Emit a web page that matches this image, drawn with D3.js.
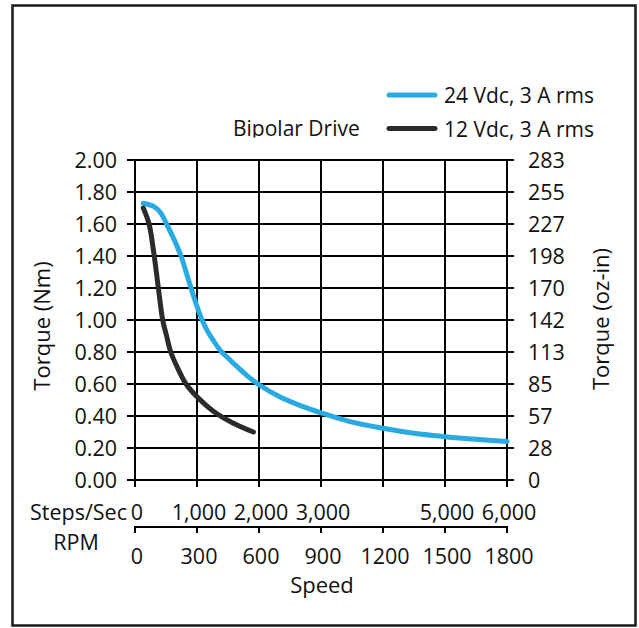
<!DOCTYPE html>
<html>
<head>
<meta charset="utf-8">
<script src="https://cdn.jsdelivr.net/npm/d3@7"></script>
<style>
  html, body { margin: 0; padding: 0; background: #fff; }
  svg { display: block; }
  text { font-family: "Open Sans", sans-serif; fill: #111; }
</style>
</head>
<body>
<svg id="chart" width="639" height="628"></svg>
<script>
// ---- data ----
const rpm24    = [40, 90, 121, 153, 190, 223, 247, 271, 296, 323, 345, 365, 419, 444, 480, 540, 600, 700, 800, 900, 1040, 1200, 1350, 1500, 1650, 1800];
const torque24 = [1.73, 1.71, 1.675, 1.60, 1.50, 1.40, 1.30, 1.20, 1.10, 1.005, 0.945, 0.90, 0.80, 0.77, 0.725, 0.655, 0.595, 0.52, 0.465, 0.42, 0.365, 0.323, 0.292, 0.271, 0.254, 0.24];
const rpm12    = [40, 68, 93, 113, 134, 153, 173, 210, 247, 300, 379, 476, 573];
const torque12 = [1.70, 1.60, 1.40, 1.20, 1.00, 0.90, 0.80, 0.69, 0.60, 0.52, 0.43, 0.355, 0.30];

const nmTicks   = [0, 0.2, 0.4, 0.6, 0.8, 1.0, 1.2, 1.4, 1.6, 1.8, 2.0];
const ozLabels  = ["0", "28", "57", "85", "113", "142", "170", "198", "227", "255", "283"];
const rpmTicks  = [0, 300, 600, 900, 1200, 1500, 1800];
const stepTicks = [0, 1000, 2000, 3000, 5000, 6000];

const seriesNames  = ["24 Vdc, 3 A rms", "12 Vdc, 3 A rms"];
const seriesColors = ["#29abe2", "#2b2b2b"];

// ---- layout ----
const svg = d3.select("#chart");
const L = 135, R = 507, T = 160, B = 480;

const x = d3.scaleLinear().domain([0, 1800]).range([L, R]);
const xs = d3.scaleLinear().domain([0, 6000]).range([L, R]);
const y = d3.scaleLinear().domain([0, 2]).range([B, T]);

// frame
svg.append("rect").attr("x", 12.5).attr("y", 5.5).attr("width", 623).attr("height", 620)
  .attr("fill", "none").attr("stroke", "#1a1a1a").attr("stroke-width", 2.5);

// horizontal grid + left/right ticks
svg.append("g").selectAll("line").data(nmTicks).join("line")
  .attr("x1", L - 8).attr("x2", R + 7)
  .attr("y1", d => y(d)).attr("y2", d => y(d))
  .attr("stroke", "#000").attr("stroke-width", 2);

// vertical grid (extending below axis as ticks)
svg.append("g").selectAll("line").data(rpmTicks).join("line")
  .attr("x1", d => x(d)).attr("x2", d => x(d))
  .attr("y1", T).attr("y2", B + 7)
  .attr("stroke", "#000").attr("stroke-width", 2);

// left labels
svg.append("g").selectAll("text").data(nmTicks).join("text")
  .attr("x", 117).attr("y", d => y(d)).attr("dy", "0.36em")
  .attr("text-anchor", "end").attr("font-size", 21.5)
  .text(d => d.toFixed(2));

// right labels
svg.append("g").selectAll("text").data(nmTicks).join("text")
  .attr("x", 528).attr("y", d => y(d)).attr("dy", "0.36em")
  .attr("text-anchor", "start").attr("font-size", 21.5)
  .text((d, i) => ozLabels[i]);

// axis titles
svg.append("text").attr("transform", "translate(50,326) rotate(-90)")
  .attr("text-anchor", "middle").attr("font-size", 22).text("Torque (Nm)");
svg.append("text").attr("transform", "translate(609,319) rotate(-90)")
  .attr("text-anchor", "middle").attr("font-size", 22).text("Torque (oz-in)");

// Steps/Sec labels
svg.append("text").attr("x", 127).attr("y", 520).attr("text-anchor", "end")
  .attr("font-size", 21.5).text("Steps/Sec");
svg.append("g").selectAll("text").data(stepTicks).join("text")
  .attr("x", d => xs(d) + 2).attr("y", 520).attr("text-anchor", "middle")
  .attr("font-size", 21.5).text(d => d3.format(",")(d));

// RPM axis
const rpmAxis = svg.append("g").attr("transform", "translate(0,527)");
rpmAxis.append("line").attr("x1", L).attr("x2", R).attr("y1", 0).attr("y2", 0)
  .attr("stroke", "#000").attr("stroke-width", 2);
rpmAxis.selectAll("line.t").data(rpmTicks).join("line").attr("class", "t")
  .attr("x1", d => x(d)).attr("x2", d => x(d)).attr("y1", -1).attr("y2", 6)
  .attr("stroke", "#000").attr("stroke-width", 2);
svg.append("g").selectAll("text").data(rpmTicks).join("text")
  .attr("x", d => x(d) + 2).attr("y", 564).attr("text-anchor", "middle")
  .attr("font-size", 21.5).text(d => d);
svg.append("text").attr("x", 76).attr("y", 550).attr("text-anchor", "middle")
  .attr("font-size", 21.5).text("RPM");
svg.append("text").attr("x", 322).attr("y", 593).attr("text-anchor", "middle")
  .attr("font-size", 22).text("Speed");

// curves
const line = d3.line().x(d => x(d[0])).y(d => y(d[1])).curve(d3.curveCatmullRom.alpha(0.5));
const data24 = rpm24.map((r, i) => [r, torque24[i]]);
const data12 = rpm12.map((r, i) => [r, torque12[i]]);
svg.append("path").datum(data24).attr("d", line).attr("fill", "none")
  .attr("stroke", seriesColors[0]).attr("stroke-width", 5).attr("stroke-linecap", "round");
svg.append("path").datum(data12).attr("d", line).attr("fill", "none")
  .attr("stroke", seriesColors[1]).attr("stroke-width", 5).attr("stroke-linecap", "round");

// legend
const legY = [95, 128.5];
const legBase = [103, 137];
seriesNames.forEach((name, i) => {
  svg.append("line").attr("x1", 389).attr("x2", 435).attr("y1", legY[i]).attr("y2", legY[i])
    .attr("stroke", seriesColors[i]).attr("stroke-width", 5).attr("stroke-linecap", "round");
  svg.append("text").attr("x", 444).attr("y", legBase[i]).attr("font-size", 21)
    .text(name);
});

// Bipolar Drive (clipped at bottom as in the reference)
svg.append("clipPath").attr("id", "bipclip").append("rect")
  .attr("x", 200).attr("y", 100).attr("width", 200).attr("height", 37.5);
svg.append("text").attr("x", 233).attr("y", 136).attr("font-size", 21)
  .attr("clip-path", "url(#bipclip)").text("Bipolar Drive");
</script>
</body>
</html>
